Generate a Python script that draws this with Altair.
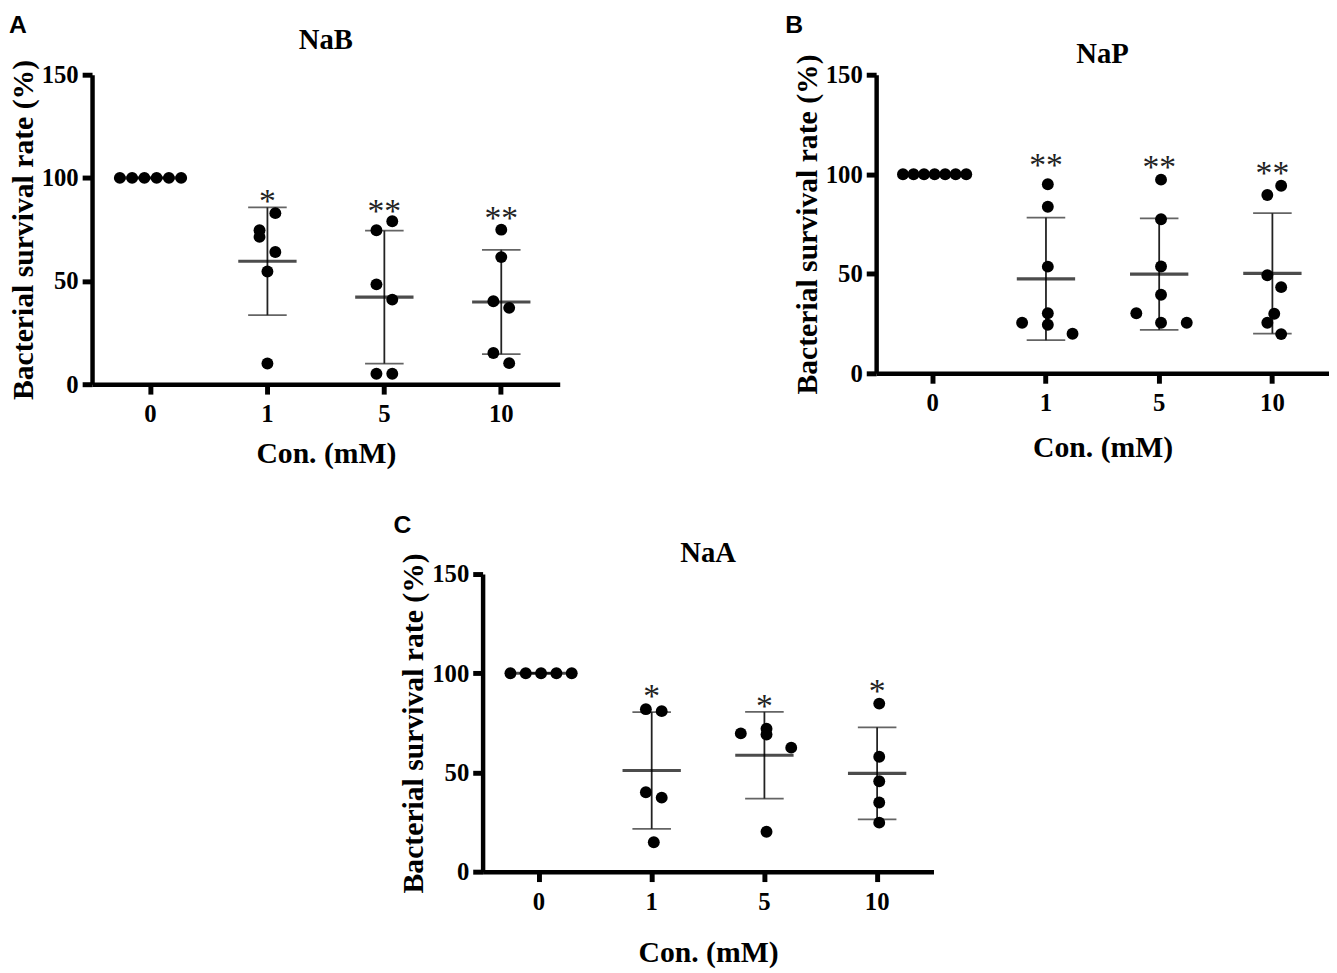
import altair as alt
import pandas as pd

concs = ["0", "1", "5", "10"]

# ---- NaB (panel A) ----
nab_c0 = [100, 100, 100, 100, 100, 100]
nab_c1 = [82.9, 74.6, 71.4, 64.1, 54.6, 10.0]
nab_c5 = [74.6, 79.0, 48.4, 41.0, 5.1, 5.1]
nab_c10 = [74.9, 61.6, 40.2, 37.0, 15.1, 10.2]
nab_j0 = [-31, -18.6, -6.2, 6.2, 18.6, 31]
nab_j1 = [8, -8, -8, 8, 0, 0]
nab_j5 = [-8, 8, -8, 8, -8, 8]
nab_j10 = [0, 0, -8, 8, -8, 8]
nab_stars = ["", "*", "**", "**"]
nab_star_y = [None, 91.5, 86.7, 83.4]

# ---- NaP (panel B) ----
nap_c0 = [100, 100, 100, 100, 100, 100, 100]
nap_c1 = [95.0, 83.7, 53.6, 30.2, 25.4, 24.4, 19.9]
nap_c5 = [97.3, 77.4, 53.7, 39.5, 30.2, 25.4, 25.4]
nap_c10 = [94.2, 89.6, 49.3, 43.3, 29.9, 25.4, 19.7]
nap_j0 = [-32, -21.3, -10.7, 0, 10.7, 21.3, 32]
nap_j1 = [0, 0, 0, 0, -26, 0, 25]
nap_j5 = [0, 0, 0, 0, -25, 0, 26]
nap_j10 = [7, -7, -7, 7, 0, -7, 7]
nap_stars = ["", "**", "**", "**"]
nap_star_y = [None, 107.8, 106.8, 103.8]

# ---- NaA (panel C) ----
naa_c0 = [100, 100, 100, 100, 100]
naa_c1 = [81.9, 80.9, 40.0, 37.3, 14.8]
naa_c5 = [69.7, 72.0, 69.1, 62.5, 20.1]
naa_c10 = [84.7, 57.9, 45.6, 34.9, 24.7]
naa_j0 = [-31, -15.5, 0, 15.5, 31]
naa_j1 = [-8, 8, -8, 8, 0]
naa_j5 = [-26, 0, 0, 25, 0]
naa_j10 = [0, 0, 0, 0, 0]
naa_stars = ["", "*", "*", "*"]
naa_star_y = [None, 91.3, 86.3, 93.8]

SERIF = "Liberation Serif"
SANS = "Liberation Sans"
YTITLE = "Bacterial survival rate (%)"
XTITLE = "Con. (mM)"


def panel(name, letter, vals, jits, stars, star_y, width, height,
          name_dy, xtitle_pad, letter_xy):
    rows = []
    for c, vs, js in zip(concs, vals, jits):
        for v, j in zip(vs, js):
            rows.append({"Con": c, "rate": v, "jit": j})
    df = pd.DataFrame(rows)
    sdf = pd.DataFrame({"Con": concs, "star": stars, "sy": star_y}).dropna()
    half = width / 8.0

    xscale = alt.Scale(type="band", paddingInner=0, paddingOuter=0)
    xaxis = alt.Axis(title=XTITLE, labelAngle=0, labelPadding=8,
                     titlePadding=xtitle_pad)
    yaxis = alt.Axis(title=YTITLE, values=[0, 50, 100, 150],
                     labelPadding=4, titlePadding=3)
    yscale = alt.Scale(domain=[0, 150], nice=False, zero=True)

    def X():
        return alt.X("Con:N", sort=concs, scale=xscale, axis=xaxis)

    def Y(field):
        return alt.Y(field, scale=yscale, axis=yaxis)

    base = alt.Chart(df)
    stats = base.transform_aggregate(
        m="mean(rate)", sd="stdev(rate)", groupby=["Con"]
    ).transform_calculate(lo="datum.m - datum.sd", hi="datum.m + datum.sd")

    pts = base.mark_circle(size=145, color="black", opacity=1).encode(
        x=X(), y=Y("rate:Q"),
        xOffset=alt.XOffset("jit:Q", scale=alt.Scale(domain=[-half, half])),
    )
    vline = stats.mark_rule(color="#222", strokeWidth=1.8).encode(
        x=X(), y=Y("lo:Q"), y2="hi:Q")
    cap_hi = stats.mark_tick(color="#222", size=39, thickness=1.8).encode(
        x=X(), y=Y("hi:Q"))
    cap_lo = stats.mark_tick(color="#222", size=39, thickness=1.8).encode(
        x=X(), y=Y("lo:Q"))
    mean = stats.mark_tick(color="black", size=59, thickness=3.2).encode(
        x=X(), y=Y("m:Q"))
    star = alt.Chart(sdf).mark_text(
        font=SERIF, fontSize=34, color="#222", baseline="middle", dy=7
    ).encode(x=X(), y=Y("sy:Q"), text="star:N")
    lett = alt.Chart(pd.DataFrame({"t": [letter]})).mark_text(
        font=SANS, fontWeight="bold", fontSize=25, align="left",
        baseline="top", color="black"
    ).encode(text="t:N", x=alt.value(letter_xy[0]), y=alt.value(letter_xy[1]))
    ttl = alt.Chart(pd.DataFrame({"t": [name]})).mark_text(
        font=SERIF, fontWeight="bold", fontSize=29, align="center",
        baseline="middle", color="black"
    ).encode(text="t:N", x=alt.value(width / 2), y=alt.value(name_dy))

    return alt.layer(vline, cap_hi, cap_lo, mean, pts, star, lett, ttl).properties(
        width=width, height=height)


A = panel("NaB", "A", [nab_c0, nab_c1, nab_c5, nab_c10],
          [nab_j0, nab_j1, nab_j5, nab_j10], nab_stars, nab_star_y,
          473, 313, -35, 12, (-84, -62))
B = panel("NaP", "B", [nap_c0, nap_c1, nap_c5, nap_c10],
          [nap_j0, nap_j1, nap_j5, nap_j10], nap_stars, nap_star_y,
          458, 302, -21, 17, (-92, -62))
C = panel("NaA", "C", [naa_c0, naa_c1, naa_c5, naa_c10],
          [naa_j0, naa_j1, naa_j5, naa_j10], naa_stars, naa_star_y,
          456, 301, -21, 24, (-90, -62))

spacer = alt.Chart(pd.DataFrame({"a": [0]})).mark_point(opacity=0).encode(
    x=alt.value(0), y=alt.value(0)).properties(width=1, height=1)

row1 = alt.hconcat(A, B, spacing=320, bounds="flush")
row2 = alt.hconcat(spacer, C, spacing=394, bounds="flush")

chart = alt.vconcat(row1, row2, spacing=505, bounds="flush").properties(
    padding=0, background="white"
).configure_view(stroke=None).configure_axis(
    domainColor="black", domainWidth=4.5, tickColor="black", tickWidth=5,
    tickSize=10, grid=False, labelFont=SERIF, labelFontWeight="bold",
    labelFontSize=25, labelColor="black", titleFont=SERIF, titleFontSize=30,
    titleFontWeight="bold", titleColor="black",
)

chart.save("out.html", embed_options={"renderer": "svg", "actions": False})
